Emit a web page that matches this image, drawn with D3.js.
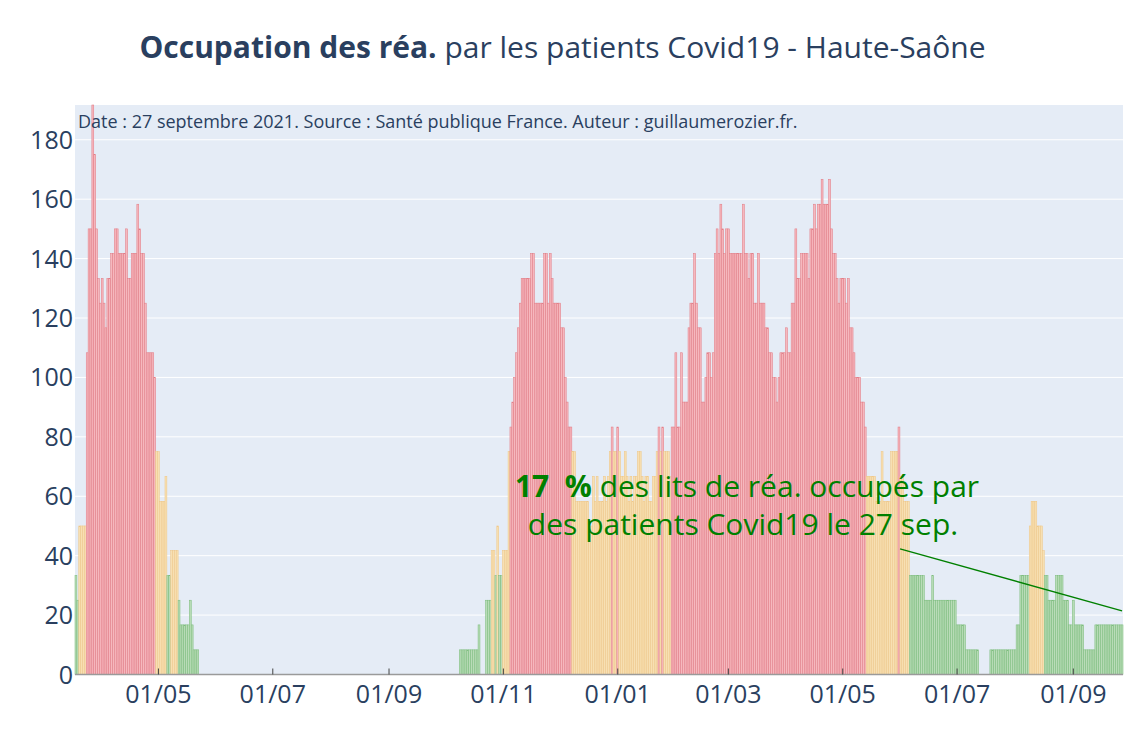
<!DOCTYPE html>
<html>
<head>
<meta charset="utf-8">
<script src="https://cdn.jsdelivr.net/npm/d3@7"></script>
<style>
    body { margin: 0; background: white; }
    text { font-family: "Open Sans", "Noto Sans", sans-serif; }
</style>
</head>
<body>
<svg id="chart"></svg>
<script>
// Taux d'occupation des lits de réa. (%), un jour par barre, depuis le 18/03/2020
// chaque entrée : [valeur, nombre de jours consécutifs]
const premierJour = "2020-03-18";

const vague1 = [[33.3,1],[25,1],[50,4],[108.3,1],[150,2],[191.7,1],[175,1],[150,1],[133.3,1],[125,1],
    [133.3,1],[125,1],[116.7,1],[133.3,2],[141.7,2],[150,2],[141.7,4],[150,1],[133.3,2],[141.7,3],
    [158.3,1],[150,1],[141.7,2],[125,1],[108.3,4],[100,1],[75,2],[58.3,3],[66.7,1],[33.3,2],
    [41.7,4],[25,1],[16.7,5],[25,1],[16.7,1],[8.3,3]];

const ete2020 = [[0,139]];

const automne2020 = [[8.3,10],[16.7,1],[0,3],[25,3],[41.7,2],[33.3,1],[50,1],[33.3,2],[41.7,3],[75,1]];

const vague2 = [[83.3,1],[91.7,1],[100,1],[108.3,1],[116.7,1],[125,1],[133.3,5],[141.7,2],[125,5],
    [141.7,2],[125,1],[141.7,1],[133.3,1],[125,4],[116.7,2],[100,1],[91.7,1],[83.3,2],[75,2]];

const hiver = [[58.3,7],[50,2],[66.7,1],[58.3,1],[66.7,1],[58.3,3],[66.7,1],[58.3,1],[66.7,1],[75,1],
    [83.3,1],[75,2],[83.3,1],[75,1],[66.7,2],[75,1],[66.7,1],[58.3,1],[66.7,1],[58.3,1],[66.7,2],
    [75,2],[66.7,1],[58.3,1],[66.7,2],[58.3,2],[66.7,2],[75,1],[83.3,1],[75,1],[83.3,1],[75,3],[66.7,1]];

const vague3 = [[83.3,2],[108.3,1],[83.3,2],[108.3,1],[91.7,3],[116.7,1],[125,2],[141.7,1],[125,1],
    [116.7,2],[91.7,2],[100,1],[108.3,2],[100,1],[108.3,1],[141.7,1],[150,1],[141.7,1],[158.3,1],
    [150,1],[141.7,1],[150,2],[141.7,7],[158.3,1],[141.7,2],[133.3,1],[141.7,2],[125,2],[141.7,1],
    [125,3],[116.7,2],[108.3,2],[100,2],[91.7,1],[100,1],[108.3,3],[116.7,1],[108.3,2],[125,2],
    [150,1],[133.3,2],[141.7,4],[133.3,1],[150,2],[158.3,1],[150,1],[158.3,2],[166.7,1],[158.3,3],
    [166.7,1],[150,1],[141.7,2],[133.3,1],[125,1],[133.3,3],[125,1],[133.3,1],[116.7,2],[108.3,1],
    [100,3],[91.7,2],[83.3,1]];

const ete2021 = [[66.7,5],[58.3,3],[75,1],[58.3,4],[75,4],[83.3,1],[66.7,2],[58.3,3],[33.3,8],[25,4],
    [33.3,1],[25,12],[16.7,5],[8.3,7],[0,6],[8.3,14],[16.7,2],[33.3,5],[50,1],[58.3,3],[50,3],
    [41.7,1],[33.3,2],[25,4],[33.3,4],[25,3],[16.7,2],[25,1],[16.7,5],[8.3,6],[16.7,15]];

const yTicks = [0, 20, 40, 60, 80, 100, 120, 140, 160, 180];
const xTicks = ["2020-05-01", "2020-07-01", "2020-09-01", "2020-11-01", "2021-01-01",
    "2021-03-01", "2021-05-01", "2021-07-01", "2021-09-01"];

const titreGras = "Occupation des réa.";
const titreSuite = " par les patients Covid19 - Haute-Saône";
const sourceTexte = "Date : 27 septembre 2021. Source : Santé publique France. Auteur : guillaumerozier.fr.";

// couleurs selon le seuil
function couleur(v) {
    if (v >= 80) return { fill: "#f6b8be", stroke: "#e27d87" };
    if (v >= 40) return { fill: "#f7e0b3", stroke: "#efc88a" };
    return { fill: "#b9dcb8", stroke: "#7dbd7d" };
}

// déplie les séries en jours
const day = 24 * 3600 * 1000;
const start = new Date(premierJour + "T00:00:00");
const data = [];
[vague1, ete2020, automne2020, vague2, hiver, vague3, ete2021].forEach(serie => {
    serie.forEach(([v, n]) => {
        for (let k = 0; k < n; k++) {
            data.push({ date: new Date(start.getTime() + data.length * day), value: v });
        }
    });
});

const width = 1125, height = 750;
const margin = { top: 105, right: 2, bottom: 75.5, left: 75 };

const svg = d3.select("#chart").attr("width", width).attr("height", height);

const last = data[data.length - 1];
const x = d3.scaleTime()
    .domain([new Date(start.getTime() - day / 2), new Date(last.date.getTime() + day / 2)])
    .range([margin.left, width - margin.right]);

const y = d3.scaleLinear()
    .domain([0, d3.max(data, d => d.value)])
    .range([height - margin.bottom, margin.top]);

// fond du graphique
svg.append("rect")
    .attr("x", margin.left).attr("y", margin.top)
    .attr("width", width - margin.left - margin.right)
    .attr("height", height - margin.top - margin.bottom)
    .attr("fill", "#e5ecf6");

// grille horizontale
svg.selectAll(".grid-line")
    .data(yTicks)
    .enter()
    .append("line")
    .attr("x1", margin.left)
    .attr("x2", width - margin.right)
    .attr("y1", d => y(d))
    .attr("y2", d => y(d))
    .attr("stroke", "white")
    .attr("stroke-width", 1);

// barres
svg.selectAll(".bar")
    .data(data)
    .enter()
    .append("rect")
    .attr("x", d => x(new Date(d.date.getTime() - day / 2)))
    .attr("width", d => x(new Date(d.date.getTime() + day / 2)) - x(new Date(d.date.getTime() - day / 2)))
    .attr("y", d => y(d.value))
    .attr("height", d => y(0) - y(d.value))
    .attr("fill", d => couleur(d.value).fill)
    .attr("stroke", d => couleur(d.value).stroke)
    .attr("stroke-width", 0.55);

// axe horizontal
svg.append("line")
    .attr("x1", margin.left).attr("x2", width - margin.right)
    .attr("y1", y(0)).attr("y2", y(0))
    .attr("stroke", "#9a9a9a")
    .attr("stroke-width", 1.5);

svg.selectAll(".x-tick")
    .data(xTicks)
    .enter()
    .append("line")
    .attr("x1", d => x(new Date(d + "T00:00:00")))
    .attr("x2", d => x(new Date(d + "T00:00:00")))
    .attr("y1", y(0))
    .attr("y2", y(0) - 6)
    .attr("stroke", "#444")
    .attr("stroke-width", 1);

svg.selectAll(".x-label")
    .data(xTicks)
    .enter()
    .append("text")
    .attr("x", d => x(new Date(d + "T00:00:00")))
    .attr("y", y(0) + 28.5)
    .attr("text-anchor", "middle")
    .attr("font-size", 25)
    .attr("fill", "#2a3f5f")
    .text(d => d3.timeFormat("%d/%m")(new Date(d + "T00:00:00")));

// axe vertical
svg.selectAll(".y-label")
    .data(yTicks)
    .enter()
    .append("text")
    .attr("x", margin.left - 2)
    .attr("y", d => y(d) + 9)
    .attr("text-anchor", "end")
    .attr("font-size", 25)
    .attr("fill", "#2a3f5f")
    .text(d => d);

// titre
const titre = svg.append("text")
    .attr("x", width / 2)
    .attr("y", 58)
    .attr("text-anchor", "middle")
    .attr("font-size", 30)
    .attr("fill", "#2a3f5f");
titre.append("tspan").attr("font-weight", "bold").text(titreGras);
titre.append("tspan").text(titreSuite);

// source
svg.append("text")
    .attr("x", margin.left + 3)
    .attr("y", 128)
    .attr("font-size", 18)
    .attr("fill", "#2a3f5f")
    .text(sourceTexte);

// annotation sur la dernière valeur
const pointX = x(last.date);
const pointY = y(last.value) - 14;

svg.append("line")
    .attr("x1", pointX - 222)
    .attr("y1", pointY - 62)
    .attr("x2", pointX)
    .attr("y2", pointY)
    .attr("stroke", "green")
    .attr("stroke-width", 1.5);

const annot = svg.append("text")
    .attr("x", 747)
    .attr("y", 497)
    .attr("text-anchor", "middle")
    .attr("font-size", 30)
    .attr("fill", "green");
annot.append("tspan").attr("font-weight", "bold").text(`${Math.round(last.value)}\u00a0 %`);
annot.append("tspan").text(" des lits de réa. occupés par");

svg.append("text")
    .attr("x", 743)
    .attr("y", 535)
    .attr("text-anchor", "middle")
    .attr("font-size", 30)
    .attr("fill", "green")
    .text(`des patients Covid19 le ${last.date.getDate()} sep.`);
</script>
</body>
</html>
